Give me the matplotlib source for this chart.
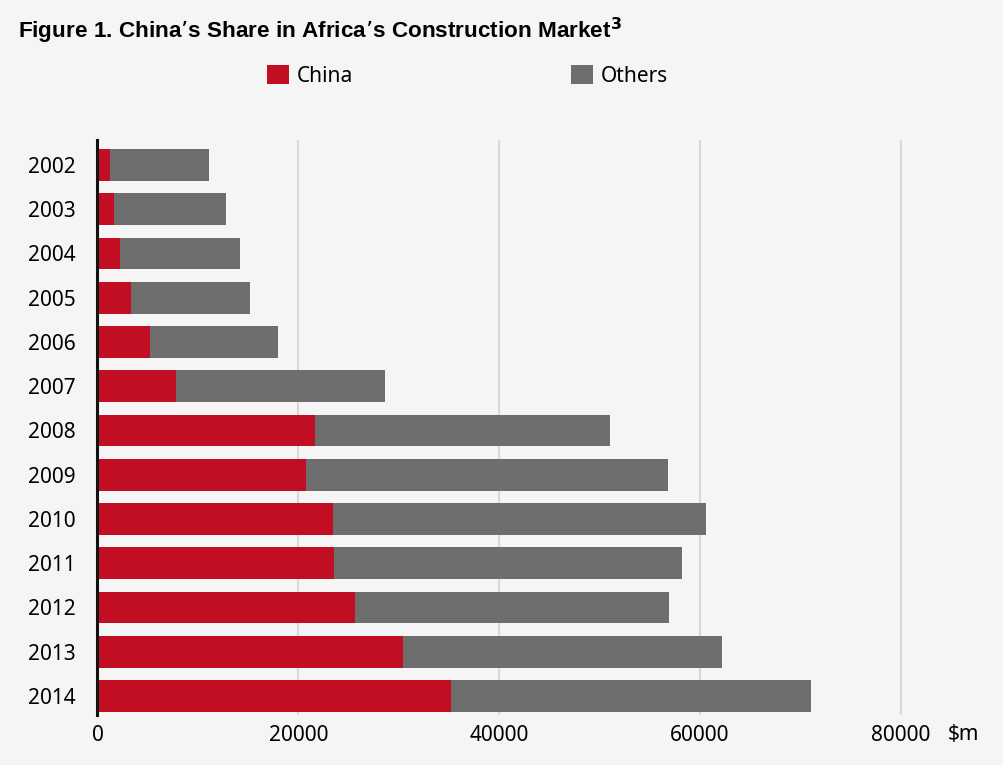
import matplotlib
matplotlib.use('Agg')
import matplotlib.pyplot as plt
import numpy as np

years = ['2002', '2003', '2004', '2005', '2006', '2007', '2008',
         '2009', '2010', '2011', '2012', '2013', '2014']
china = [1250, 1600, 2250, 3300, 5200, 7800, 21700,
         20800, 23500, 23550, 25650, 30400, 35200]
total = [11100, 12750, 14200, 15200, 17950, 28650, 51000,
         56800, 60650, 58200, 56900, 62200, 71100]
others = [t - c for t, c in zip(total, china)]
xticks = [0, 20000, 40000, 60000, 80000]

bg = '#f5f5f5'
red = '#c20e22'
grey = '#6e6e6e'

plt.rcParams['font.family'] = ['Noto Sans', 'DejaVu Sans']

fig = plt.figure(figsize=(10.04, 7.65), dpi=100, facecolor=bg)
ax = fig.add_axes([97.5 / 1004, 1 - 715 / 765, (940.9 - 97.5) / 1004, 575 / 765])
ax.set_facecolor(bg)

y = np.arange(len(years))
ax.barh(y, china, height=0.72, color=red, label='China', zorder=3)
ax.barh(y, others, left=china, height=0.72, color=grey, label='Others', zorder=3)

ax.set_xlim(0, 84000)
ax.set_ylim(12.43, -0.565)
ax.set_yticks(y)
ax.set_yticklabels(years)
ax.set_xticks(xticks)
ax.set_xticklabels([str(v) for v in xticks])
ax.tick_params(axis='y', length=0, pad=16, labelsize=15)
ax.tick_params(axis='x', length=0, pad=7, labelsize=15)

ax.grid(axis='x', color='#d8d8d8', linewidth=1.5, zorder=0)
for s in ['top', 'right', 'bottom']:
    ax.spines[s].set_visible(False)
ax.spines['left'].set_linewidth(2.2)
ax.spines['left'].set_color('#111111')
ax.spines['left'].set_zorder(4)

fig.text(18 / 1004, 1 - 31 / 765, 'Figure 1. China\u2019s Share in Africa\u2019s Construction Market$^{\\mathbf{3}}$',
         fontsize=16.2, fontweight='bold', va='center', ha='left',
         family=['Liberation Sans', 'DejaVu Sans'])
fig.text(948 / 1004, 1 - 735 / 765, '$m', fontsize=15, va='center', ha='left')

fig.legend(loc='center left', bbox_to_anchor=(248 / 1004, 1 - 76 / 765), ncol=2,
           frameon=False, fontsize=15, handlelength=1.05, handleheight=1.05,
           handletextpad=0.4, columnspacing=10.45)

plt.savefig('out.png', dpi=100, facecolor=bg)
